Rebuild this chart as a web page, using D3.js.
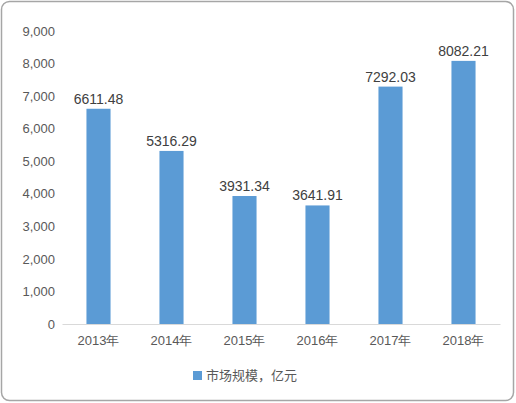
<!DOCTYPE html>
<html><head><meta charset="utf-8">
<script src="https://cdn.jsdelivr.net/npm/d3@7"></script>
<style>body{margin:0;background:#fff;font-family:"Noto Sans CJK SC","Liberation Sans",sans-serif;}</style>
</head><body><svg id="c" width="516" height="403"></svg>
<script>
const categories=["2013年","2014年","2015年","2016年","2017年","2018年"];
const values=[6611.48,5316.29,3931.34,3641.91,7292.03,8082.21];
const ticks=[0,1000,2000,3000,4000,5000,6000,7000,8000,9000];
const seriesName="市场规模，亿元";
const svg=d3.select("#c");
svg.append("rect").attr("x",1.5).attr("y",1.5).attr("width",512).attr("height",399).attr("rx",8)
  .attr("fill","#fff").attr("stroke","#a6a6a6").attr("stroke-width",1.5);
const x=d3.scaleBand().domain(categories).range([62,500]).paddingInner(0.67).paddingOuter(0.335);
const y=d3.scaleLinear().domain([0,9000]).range([324,31]);
const ya=svg.append("g").attr("transform","translate(55,0)").call(d3.axisLeft(y).tickValues(ticks).tickSize(0).tickPadding(0));
ya.select(".domain").remove();
ya.selectAll("text").attr("fill","#595959").style("font-size","13px").style("font-family","Liberation Sans, sans-serif");
const xa=svg.append("g").attr("transform","translate(0,324)").call(d3.axisBottom(x).tickSize(0).tickPadding(12));
xa.select(".domain").attr("stroke","#d9d9d9");
xa.selectAll("text").attr("fill","#595959").style("font-size","13px");
svg.selectAll(".bar").data(values).enter().append("rect")
  .attr("x",(d,i)=>x(categories[i])).attr("width",x.bandwidth())
  .attr("y",d=>y(d)).attr("height",d=>324-y(d)).attr("fill","#5b9bd5");
svg.selectAll(".lbl").data(values).enter().append("text")
  .attr("x",(d,i)=>x(categories[i])+x.bandwidth()/2).attr("y",d=>y(d)-5)
  .attr("text-anchor","middle").attr("fill","#404040").style("font-size","14px")
  .style("font-family","Liberation Sans, sans-serif").text(d=>d.toFixed(2));
svg.append("rect").attr("x",193).attr("y",371).attr("width",9).attr("height",9).attr("fill","#5b9bd5");
svg.append("text").attr("x",206).attr("y",380).attr("fill","#595959").style("font-size","13px").text(seriesName);
</script></body></html>
